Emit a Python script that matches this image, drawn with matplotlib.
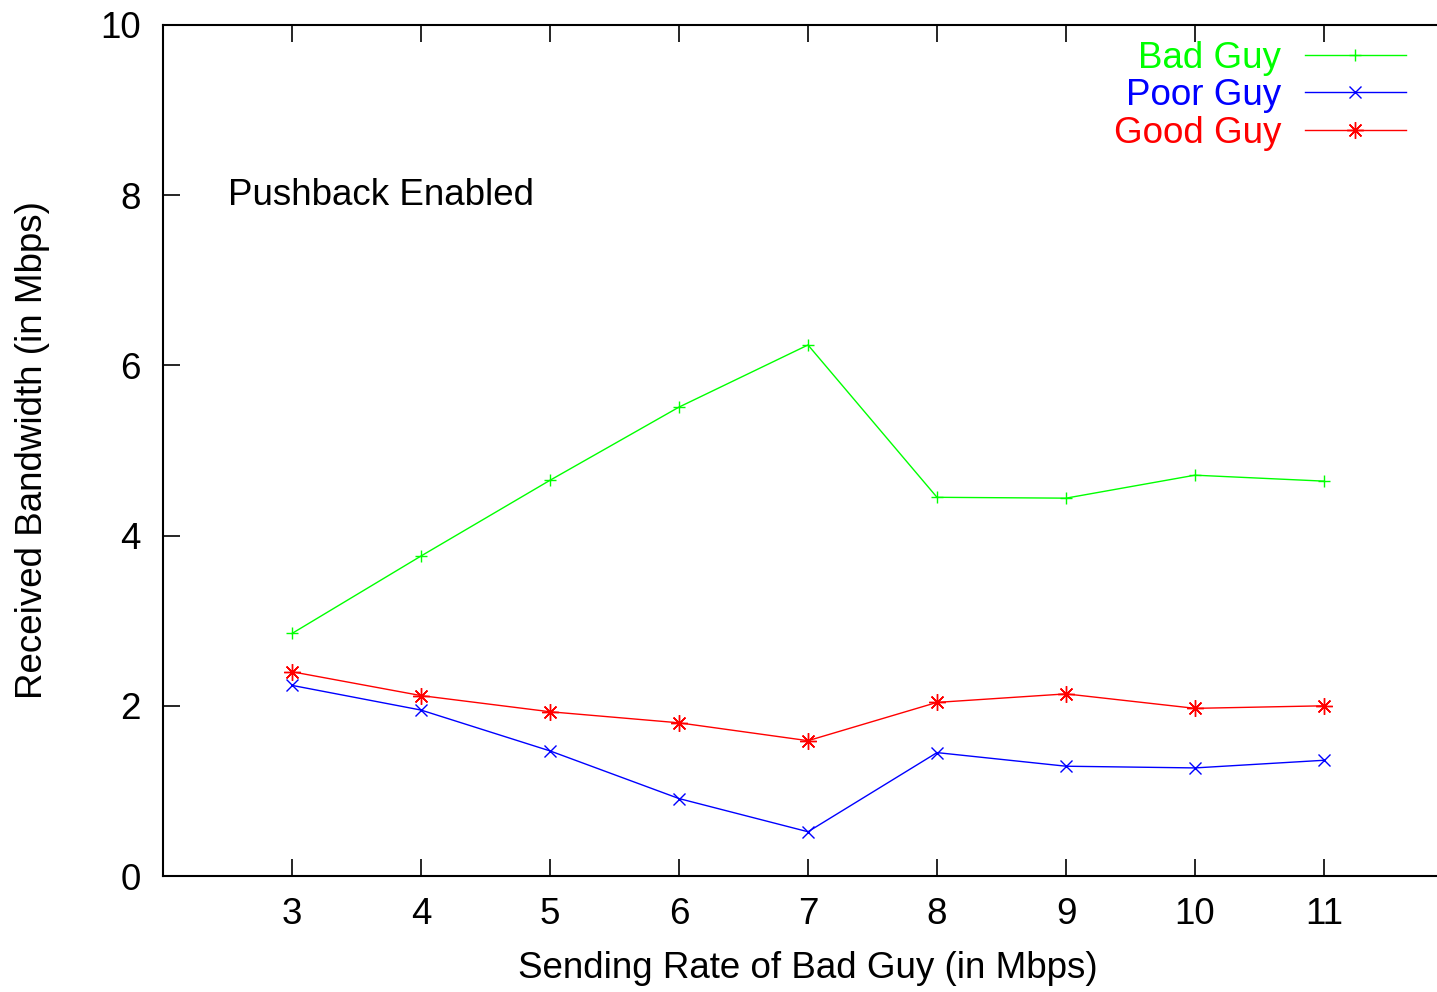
import matplotlib
matplotlib.use('Agg')
import matplotlib.pyplot as plt


SENDING_RATE = [3, 4, 5, 6, 7, 8, 9, 10, 11]
BAD_GUY = [2.85, 3.76, 4.65, 5.51, 6.24, 4.45, 4.44, 4.71, 4.64]
POOR_GUY = [2.24, 1.95, 1.47, 0.91, 0.52, 1.45, 1.29, 1.27, 1.36]
GOOD_GUY = [2.40, 2.12, 1.93, 1.80, 1.59, 2.04, 2.14, 1.97, 2.00]

SERIES = [
    ('Bad Guy', BAD_GUY, '#00ff00', '+', 9),
    ('Poor Guy', POOR_GUY, '#0000ff', 'x', 9),
    ('Good Guy', GOOD_GUY, '#ff0000', (8, 2, 0), 12),
]

FONT_SIZE = 26.5


def main():
    plt.rcParams['font.family'] = ['Liberation Sans', 'DejaVu Sans']
    plt.rcParams['font.size'] = FONT_SIZE

    fig = plt.figure(figsize=(14.37, 9.92), dpi=100)
    # right border of the box falls just outside the picture, as in the original
    ax = fig.add_axes([163 / 1437, 116 / 992, 1290 / 1437, 851 / 992])

    for name, values, color, marker, size in SERIES:
        ax.plot(SENDING_RATE, values, color=color, lw=1, marker=marker,
                markersize=size, markeredgewidth=1, label=name)

    ax.set_xlim(2, 12)
    ax.set_ylim(0, 10)
    ax.set_xticks(SENDING_RATE)
    ax.set_yticks([0, 2, 4, 6, 8, 10])
    ax.tick_params(direction='in', length=12, width=1.2, top=True, right=False,
                   labelsize=FONT_SIZE)
    ax.tick_params(axis='x', pad=15)
    ax.tick_params(axis='y', pad=16)
    for spine in ax.spines.values():
        spine.set_linewidth(1.5)

    ax.set_xlabel('Sending Rate of Bad Guy (in Mbps)', labelpad=14)
    ax.set_ylabel('Received Bandwidth (in Mbps)', labelpad=36)

    ax.text(2.5, 8.0, 'Pushback Enabled', va='center', ha='left')

    leg = ax.legend(loc='upper right', bbox_to_anchor=(0.9636, 0.981),
                    frameon=False, markerfirst=False, handlelength=2.75,
                    handletextpad=0.65, labelspacing=0.06, borderpad=0,
                    borderaxespad=0)
    for text, series in zip(leg.get_texts(), SERIES):
        text.set_color(series[2])

    fig.savefig('out.png', dpi=100)


if __name__ == '__main__':
    main()
